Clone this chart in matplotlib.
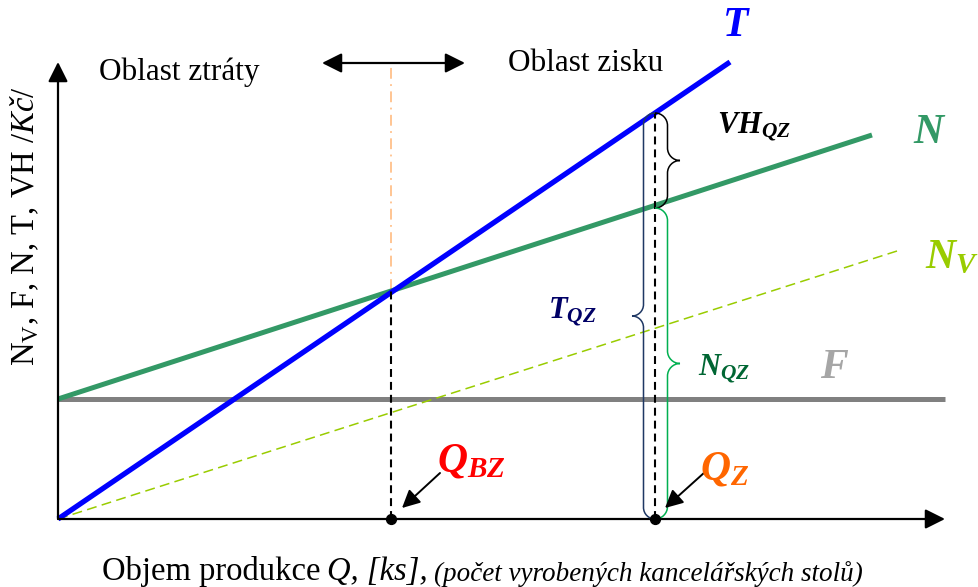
import matplotlib.pyplot as plt
import numpy as np
from matplotlib.path import Path
from matplotlib.patches import PathPatch

plt.rcParams['font.family'] = ['Liberation Serif', 'DejaVu Serif']
plt.rcParams['mathtext.fontset'] = 'custom'
plt.rcParams['mathtext.rm'] = 'Liberation Serif'
plt.rcParams['mathtext.it'] = 'Liberation Serif:italic'
plt.rcParams['mathtext.bf'] = 'Liberation Serif:bold:italic'

# values (Q in ks, costs in Kc, arbitrary scale)
q_T = [0, 672]
T_vals = [0, 457]
q_N = [0, 814]
N_vals = [120, 384]
q_Nv = [0, 839]
Nv_vals = [0, 268]
q_F = [0, 887]
F_vals = [120, 120]

q_bz = 333
v_bz = 229
q_z = 597
T_z = 406
N_z = 311

q_max = 887
v_max = 457


def brace(ax, x0, y_lo, y_hi, depth, color, lw=1.1):
    h = depth / 2.0
    r = min(abs(h), (y_hi - y_lo) / 4.0)
    ym = (y_lo + y_hi) / 2.0
    verts = [
        (x0, y_hi),
        (x0 + 0.55 * h, y_hi), (x0 + h, y_hi - 0.45 * r), (x0 + h, y_hi - r),
        (x0 + h, ym + r),
        (x0 + h, ym + 0.45 * r), (x0 + 1.45 * h, ym), (x0 + depth, ym),
        (x0 + 1.45 * h, ym), (x0 + h, ym - 0.45 * r), (x0 + h, ym - r),
        (x0 + h, y_lo + r),
        (x0 + h, y_lo + 0.45 * r), (x0 + 0.55 * h, y_lo), (x0, y_lo),
    ]
    codes = ([Path.MOVETO] + [Path.CURVE4] * 3 + [Path.LINETO] + [Path.CURVE4] * 6
             + [Path.LINETO] + [Path.CURVE4] * 3)
    ax.add_patch(PathPatch(Path(verts, codes), fill=False, edgecolor=color, lw=lw, zorder=6))


def label(ax, x, y, main, sub, color, size):
    ax.text(x, y, r'$\mathbf{%s}_{\mathbf{%s}}$' % (main, sub) if sub else r'$\mathbf{%s}$' % main,
            color=color, fontsize=size, ha='left', va='baseline', zorder=8)


fig = plt.figure(figsize=(9.79, 5.87), dpi=100)
ax = fig.add_axes([0, 0, 1, 1])
ax.set_xlim(-58, 921)
ax.set_ylim(-68, 519)
ax.axis('off')

# cost / revenue lines
ax.plot(q_F, F_vals, color='#808080', lw=3.6, solid_capstyle='butt', zorder=2)
ax.plot(q_Nv, Nv_vals, color='#99CC00', lw=1.1, dashes=(6.5, 3.5), zorder=3)
ax.plot(q_N, N_vals, color='#339966', lw=3.6, solid_capstyle='butt', zorder=3)
ax.plot(q_T, T_vals, color='#0000FF', lw=3.8, solid_capstyle='butt', zorder=4)

# axes arrows
ap = dict(arrowstyle='-|>,head_length=0.6,head_width=0.3', color='black', lw=1.6,
          mutation_scale=20, shrinkA=0, shrinkB=0)
ax.annotate('', xy=(q_max, 0), xytext=(0, 0), arrowprops=ap, zorder=5)
ax.annotate('', xy=(0, v_max), xytext=(0, 0), arrowprops=ap, zorder=5)

# break-even and Qz guides
ax.plot([q_bz, q_bz], [v_bz, 454], color='#FFC08A', lw=1.3, dashes=(6, 3, 1, 3), zorder=1)
ax.plot([q_bz, q_bz], [0, v_bz], color='black', lw=1.5, dashes=(3.8, 2.4), zorder=5)
ax.plot([q_z, q_z], [0, T_z], color='black', lw=1.5, dashes=(3.8, 2.4), zorder=5)
ax.scatter([q_bz, q_z], [0, 0], s=50, color='black', zorder=7)

# area double arrow
ax.annotate('', xy=(407, 456), xytext=(264, 456),
            arrowprops=dict(arrowstyle='<|-|>,head_length=0.6,head_width=0.3', color='black',
                            lw=1.6, mutation_scale=20, shrinkA=0, shrinkB=0))
ax.text(41, 439, 'Oblast ztráty', fontsize=22.5, ha='left', va='baseline')
ax.text(450, 448, 'Oblast zisku', fontsize=22.5, ha='left', va='baseline')

# braces
brace(ax, q_z, N_z, T_z, 25, 'black')
brace(ax, q_z, 0, T_z, -23, '#1F3864')
brace(ax, q_z, 0, N_z, 25, '#00B050')

# labels
label(ax, 664, 483, 'T', None, '#0000FF', 30)
label(ax, 855, 376, 'N', None, '#339966', 30)
label(ax, 867, 251, 'N', 'V', '#99CC00', 30)
label(ax, 762, 141, 'F', None, '#A6A6A6', 30)
label(ax, 379, 47, 'Q', 'BZ', '#FF0000', 30)
label(ax, 642, 39, 'Q', 'Z', '#FF6600', 30)
label(ax, 659, 386, 'VH', 'QZ', 'black', 22)
label(ax, 490, 201, 'T', 'QZ', '#000066', 22)
label(ax, 640, 144, 'N', 'QZ', '#006633', 22)

# pointer arrows
pa = dict(arrowstyle='-|>,head_length=0.6,head_width=0.3', color='black', lw=1.4,
          mutation_scale=18, shrinkA=0, shrinkB=0)
ax.annotate('', xy=(344, 11), xytext=(382, 46), arrowprops=pa, zorder=7)
ax.annotate('', xy=(607, 11), xytext=(647, 47), arrowprops=pa, zorder=7)

# axis titles
ax.text(-33, 293, r'N$_{\mathrm{V}}$, F, N, T, VH /$\mathit{Kč}$/', fontsize=23.5,
        rotation=90, ha='center', va='center')
t1 = ax.text(44, -61, 'Objem produkce', fontsize=23.5, ha='left', va='baseline')
t2 = ax.annotate('Q, [ks],', xy=(1, 0), xycoords=t1, xytext=(5, 0), textcoords='offset points',
                 fontsize=23.5, style='italic', ha='left', va='bottom')
ax.annotate('(počet vyrobených kancelářských stolů)', xy=(1, 0), xycoords=t2, xytext=(4, 0),
            textcoords='offset points', fontsize=19.5, style='italic', ha='left', va='bottom')

plt.savefig('out.png', dpi=100)
